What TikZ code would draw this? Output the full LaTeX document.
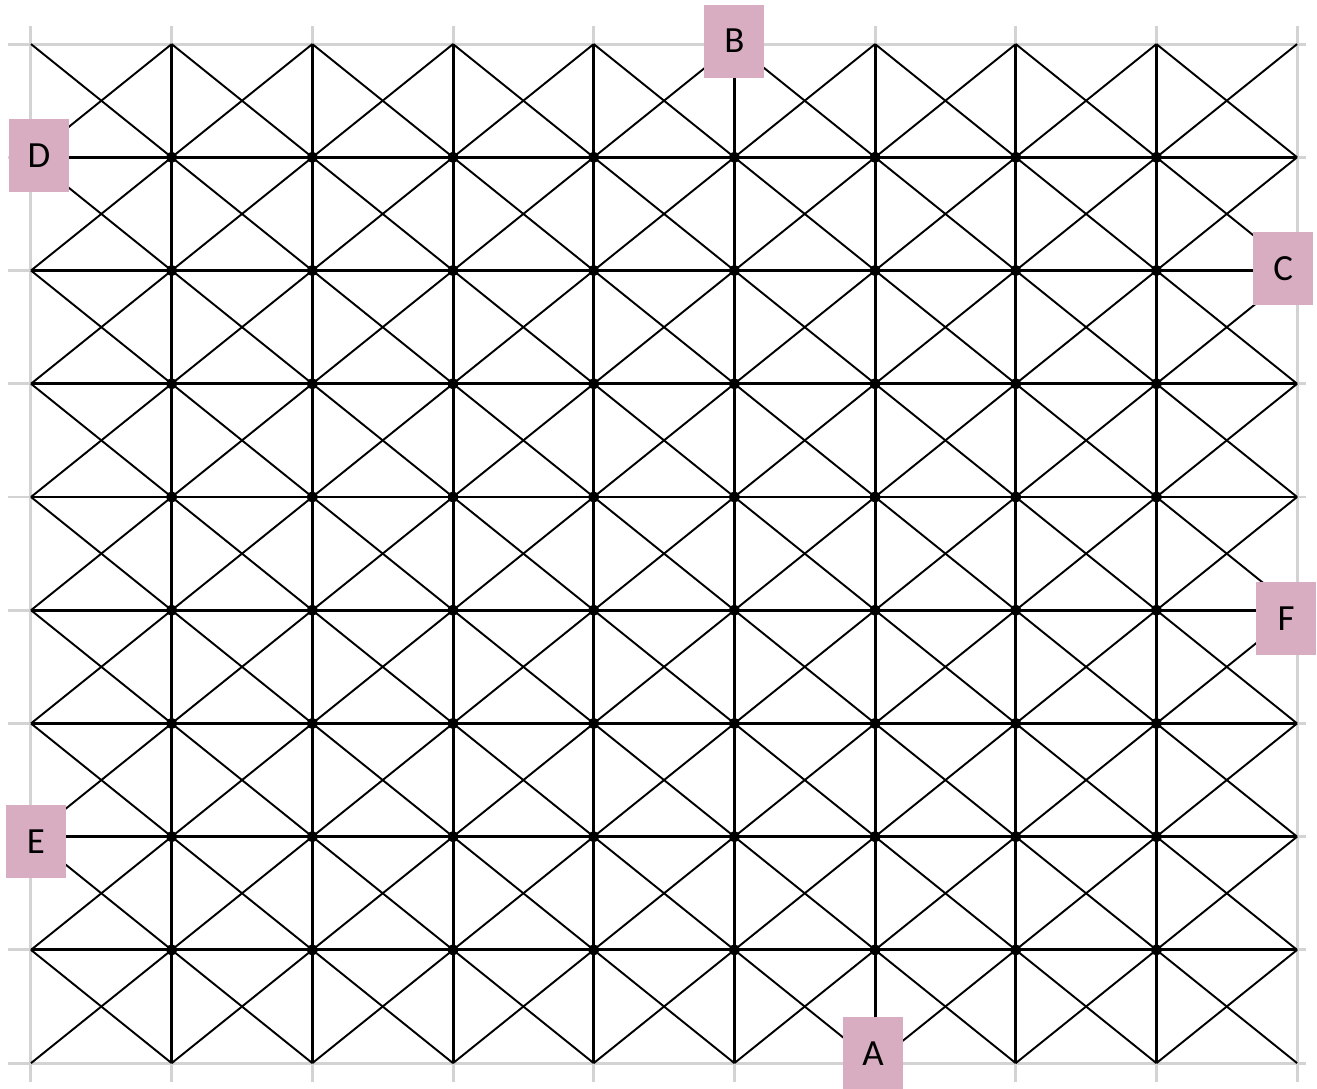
\documentclass[tikz,border=0pt]{standalone}
\usepackage{fontspec}
\setmainfont{Carlito}
\usetikzlibrary{positioning}
\definecolor{tagpink}{HTML}{D8ADC2}
\definecolor{guidegray}{HTML}{D3D3D3}
\tikzset{
  guide/.style={guidegray,line width=1.7pt},
  diag/.style={black,line width=1.1pt},
  bar/.style={black,line width=1.7pt},
  tagbox/.style={fill=tagpink,minimum width=1.2cm,minimum height=1.46cm,inner sep=0pt,font=\fontsize{21}{21}\selectfont}
}

\begin{document}
\begin{tikzpicture}[x=2.8134cm,y=2.2644cm]
\useasboundingbox (-0.2203,-0.2208) rectangle (9.1415,9.3895);
% light guide lines
\foreach \k in {0,...,9} {
  \draw[guide] (\k,-0.168) -- (\k,9.159);
  \draw[guide] (-0.164,\k) -- (9.064,\k);
}
% crosses in every cell
\foreach \i in {0,...,8}
  \foreach \j in {0,...,8} {
    \draw[diag] (\i,\j) -- (\i+1,\j+1);
    \draw[diag] (\i+1,\j) -- (\i,\j+1);
  }
% inner lines
\foreach \k in {1,...,8} {
  \draw[bar] (\k,0) -- (\k,9);
  \draw[bar] (0,\k) -- (9,\k);
}
\foreach \i in {1,...,8}
  \foreach \j in {1,...,8}
    \fill (\i,\j) circle[radius=3.2pt];
% labels
\node[tagbox,yshift=0.06cm] (B) at (5,9) {B};
\node[tagbox,xshift=0.16cm,yshift=0.04cm] (D) at (0,8) {D};
\node[tagbox,xshift=-0.28cm,yshift=0.04cm] (C) at (9,7) {C};
\node[tagbox,xshift=-0.22cm,yshift=-0.16cm] (F) at (9,4) {F};
\node[tagbox,xshift=0.1cm,yshift=-0.09cm] (E) at (0,2) {E};
\node[tagbox,xshift=-0.04cm,yshift=0.19cm] (A) at (6,0) {A};
\end{tikzpicture}
\end{document}
